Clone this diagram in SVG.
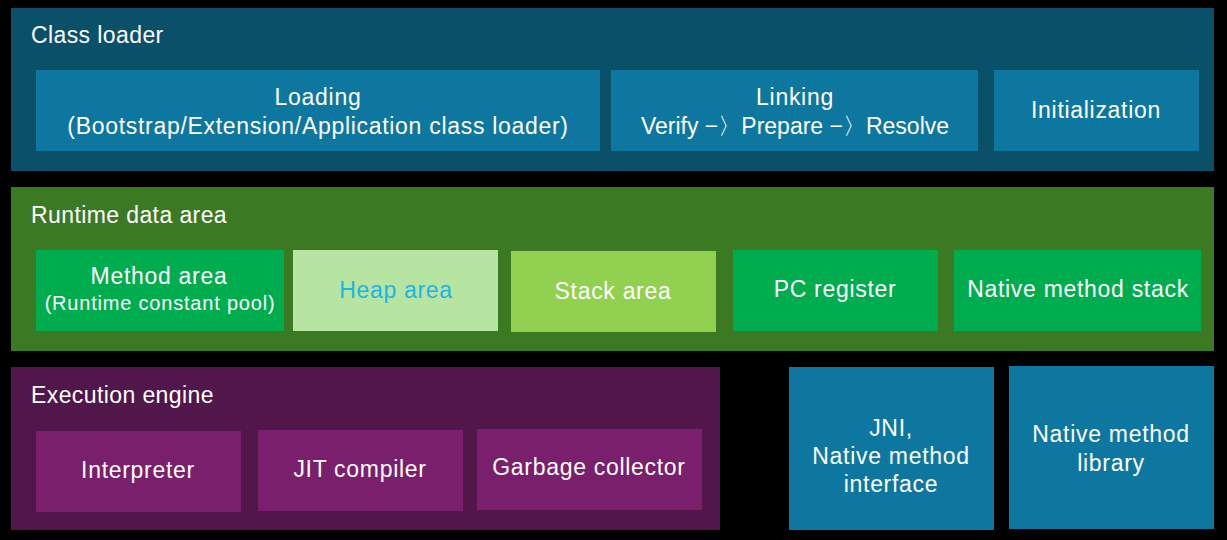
<svg xmlns="http://www.w3.org/2000/svg" width="1227" height="540" viewBox="0 0 1227 540">
<style>
text{font-family:"Liberation Sans",Arial,sans-serif;fill:#ffffff;text-anchor:middle;font-size:23px;letter-spacing:0.7px}
.title{text-anchor:start;font-size:23px;letter-spacing:0.4px}
.blue{fill:#0e77a0}
.sm{font-size:20px;letter-spacing:0.8px}
.ns{letter-spacing:0}
</style>
<rect x="0" y="0" width="1227" height="540" fill="#000000"/>
<g id="class-loader">
<rect x="11" y="8" width="1203" height="163" fill="#0a5068"/>
<text class="title" x="31" y="43">Class loader</text>
</g>
<g id="loading">
<rect class="blue" x="36" y="70" width="564" height="81"/>
<text x="318" y="105">Loading</text>
<text x="318" y="134">(Bootstrap/Extension/Application class loader)</text>
</g>
<g id="linking">
<rect class="blue" x="611" y="70" width="367" height="81"/>
<text x="795" y="105">Linking</text>
<text class="ns" x="795" y="134">Verify −〉Prepare −〉Resolve</text>
</g>
<g id="initialization">
<rect class="blue" x="994" y="70" width="205" height="81"/>
<text x="1096" y="118">Initialization</text>
</g>
<g id="runtime-data-area">
<rect x="11" y="187" width="1203" height="164" fill="#3b7a23"/>
<text class="title" x="31" y="223">Runtime data area</text>
</g>
<g id="method-area">
<rect x="36" y="250" width="248" height="81" fill="#00ad4e"/>
<text x="159" y="284">Method area</text>
<text class="sm" x="160" y="310">(Runtime constant pool)</text>
</g>
<g id="heap-area">
<rect x="293" y="250" width="205" height="81" fill="#b5e5a0"/>
<text x="396" y="298" style="fill:#1eb4e8">Heap area</text>
</g>
<g id="stack-area">
<rect x="511" y="251" width="205" height="81" fill="#92d050"/>
<text x="613" y="299">Stack area</text>
</g>
<g id="pc-register">
<rect x="733" y="250" width="205" height="81" fill="#00ad4e"/>
<text x="835" y="297">PC register</text>
</g>
<g id="native-method-stack">
<rect x="954" y="250" width="247" height="81" fill="#00ad4e"/>
<text x="1078" y="297">Native method stack</text>
</g>
<g id="execution-engine">
<rect x="11" y="367" width="709" height="163" fill="#51174a"/>
<text class="title" x="31" y="403">Execution engine</text>
</g>
<g id="interpreter">
<rect x="36" y="431" width="205" height="81" fill="#7a1f6b"/>
<text x="138" y="478">Interpreter</text>
</g>
<g id="jit-compiler">
<rect x="258" y="430" width="205" height="81" fill="#7a1f6b"/>
<text x="360" y="477">JIT compiler</text>
</g>
<g id="garbage-collector">
<rect x="477" y="429" width="225" height="81" fill="#7a1f6b"/>
<text x="589" y="475">Garbage collector</text>
</g>
<g id="jni">
<rect class="blue" x="789" y="367" width="205" height="163"/>
<text x="891" y="436">JNI,</text>
<text x="891" y="464">Native method</text>
<text x="891" y="492">interface</text>
</g>
<g id="native-method-library">
<rect class="blue" x="1009" y="366" width="205" height="163"/>
<text x="1111" y="442">Native method</text>
<text x="1111" y="471">library</text>
</g>
<g id="connectors"></g>
</svg>
